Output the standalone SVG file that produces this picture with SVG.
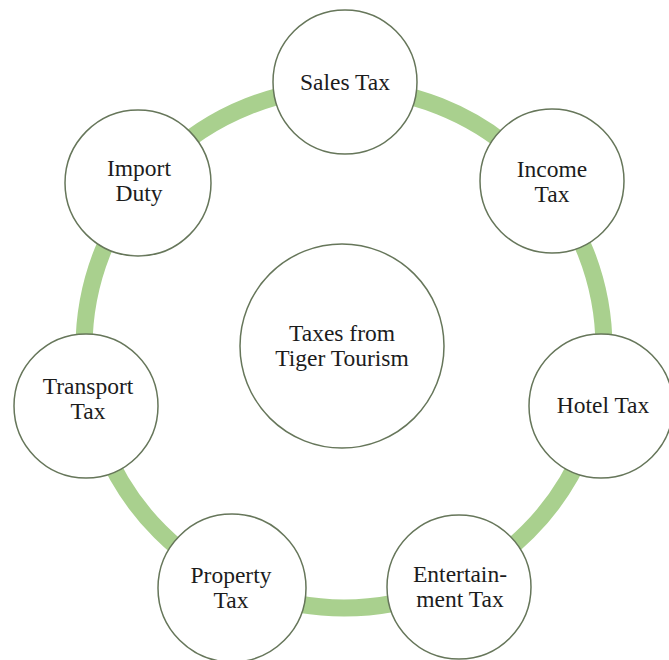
<svg xmlns="http://www.w3.org/2000/svg" width="669" height="660" viewBox="0 0 669 660">
  <style>
    .node { fill: #ffffff; stroke: #66765a; stroke-width: 1.5; }
    .ring { fill: none; stroke: #a9d08e; stroke-width: 17; }
    .label { font-family: "Liberation Serif", "Times New Roman", serif; font-size: 23.5px; fill: #1c1c1c; text-anchor: middle; }
  </style>
  <rect width="669" height="660" fill="#ffffff"/>

  <!-- connecting ring behind the nodes -->
  <g id="connectors">
    <circle class="ring" cx="344" cy="348" r="260"/>
  </g>

  <g id="center">
    <circle class="node" cx="342" cy="346" r="102"/>
    <text class="label" x="342" y="341">Taxes from</text>
    <text class="label" x="342" y="366">Tiger Tourism</text>
  </g>

  <g id="sales-tax">
    <circle class="node" cx="345" cy="82" r="72"/>
    <text class="label" x="345" y="90">Sales Tax</text>
  </g>

  <g id="income-tax">
    <circle class="node" cx="552" cy="181" r="72"/>
    <text class="label" x="552" y="177">Income</text>
    <text class="label" x="552" y="202">Tax</text>
  </g>

  <g id="hotel-tax">
    <circle class="node" cx="601" cy="406" r="72"/>
    <text class="label" x="603" y="413">Hotel Tax</text>
  </g>

  <g id="entertainment-tax">
    <circle class="node" cx="459" cy="587" r="72"/>
    <text class="label" x="460" y="582">Entertain-</text>
    <text class="label" x="460" y="607">ment Tax</text>
  </g>

  <g id="property-tax">
    <circle class="node" cx="232" cy="588" r="74"/>
    <text class="label" x="231" y="583">Property</text>
    <text class="label" x="231" y="608">Tax</text>
  </g>

  <g id="transport-tax">
    <circle class="node" cx="86" cy="406" r="72"/>
    <text class="label" x="88" y="394">Transport</text>
    <text class="label" x="88" y="419">Tax</text>
  </g>

  <g id="import-duty">
    <circle class="node" cx="138" cy="183" r="73"/>
    <text class="label" x="139" y="176">Import</text>
    <text class="label" x="139" y="201">Duty</text>
  </g>
</svg>
